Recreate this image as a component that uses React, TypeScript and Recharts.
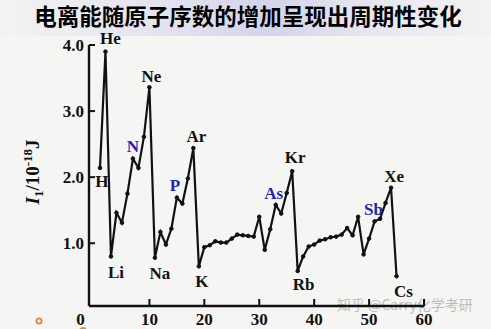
import { LineChart, Line, XAxis, YAxis, LabelList } from "recharts";

const symbols = [
  "H", "He",
  "Li", "Be", "B", "C", "N", "O", "F", "Ne",
  "Na", "Mg", "Al", "Si", "P", "S", "Cl", "Ar",
  "K", "Ca", "Sc", "Ti", "V", "Cr", "Mn", "Fe", "Co", "Ni", "Cu", "Zn", "Ga", "Ge", "As", "Se", "Br", "Kr",
  "Rb", "Sr", "Y", "Zr", "Nb", "Mo", "Tc", "Ru", "Rh", "Pd", "Ag", "Cd", "In", "Sn", "Sb", "Te", "I", "Xe",
  "Cs",
];

// first ionization energy, 10^-18 J
const energies = [
  2.14, 3.9,
  0.8, 1.46, 1.31, 1.75, 2.28, 2.14, 2.61, 3.36,
  0.78, 1.17, 0.98, 1.22, 1.69, 1.6, 1.98, 2.44,
  0.65, 0.94, 0.97, 1.03, 1.01, 1.01, 1.07, 1.13, 1.12, 1.11, 1.1, 1.4, 0.9, 1.21, 1.58, 1.45, 1.76, 2.09,
  0.58, 0.8, 0.95, 0.98, 1.04, 1.06, 1.09, 1.1, 1.13, 1.23, 1.12, 1.4, 0.83, 1.07, 1.33, 1.37, 1.61, 1.84,
  0.5,
];

const xTicks = [0, 10, 20, 30, 40, 50, 60];
const yTicks = [1, 2, 3, 4];

const data = symbols.map((sym, i) => ({ z: i + 1, sym, e: energies[i] }));

const BLUE = "#2323b4";
const INK = "#111";

// where each shown element name sits relative to its point
const labelPos: Record<string, { dx: number; dy: number; color: string }> = {
  H: { dx: 2, dy: 13, color: INK },
  He: { dx: 5, dy: -14, color: INK },
  Li: { dx: 5, dy: 16, color: INK },
  N: { dx: 0, dy: -13, color: BLUE },
  Ne: { dx: 2, dy: -11, color: INK },
  Na: { dx: 5, dy: 15, color: INK },
  P: { dx: -2, dy: -13, color: BLUE },
  Ar: { dx: 3, dy: -12, color: INK },
  K: { dx: 3, dy: 15, color: INK },
  As: { dx: -2, dy: -12, color: BLUE },
  Kr: { dx: 3, dy: -14, color: INK },
  Rb: { dx: 6, dy: 13, color: INK },
  Sb: { dx: -1, dy: -12, color: BLUE },
  Xe: { dx: 3, dy: -12, color: INK },
  Cs: { dx: 7, dy: 15, color: INK },
};

const serif = "'Liberation Serif', 'DejaVu Serif', serif";

const XTick = (props: any) => {
  const { x, y, payload } = props;
  const v = payload.value;
  return (
    <g>
      {v !== 0 && <line x1={x} y1={y} x2={x} y2={y - 7} stroke={INK} strokeWidth={2} />}
      <text x={v === 0 ? x - 14 : x} y={y + 19} textAnchor="middle" fontFamily={serif} fontWeight="bold" fontSize={17} fill={INK}>
        {v}
      </text>
    </g>
  );
};

const YTick = (props: any) => {
  const { x, y, payload } = props;
  return (
    <g>
      <line x1={x} y1={y} x2={x + 6} y2={y} stroke={INK} strokeWidth={2} />
      <text x={x - 5} y={y + 6} textAnchor="end" fontFamily={serif} fontWeight="bold" fontSize={17} fill={INK}>
        {payload.value.toFixed(1)}
      </text>
    </g>
  );
};

const ElementLabel = (props: any) => {
  const { x, y, value } = props;
  const p = labelPos[value];
  if (!p) return null;
  return (
    <text x={x + p.dx} y={y + p.dy + 6} textAnchor="middle" fontFamily={serif} fontWeight="bold" fontSize={17} fill={p.color}>
      {value}
    </text>
  );
};

export default function App() {
  return (
    <div
      style={{
        position: "absolute",
        left: 0,
        top: 0,
        width: 491,
        height: 329,
        overflow: "hidden",
        background: "#f5f5f3",
      }}
    >
      <div
        style={{
          position: "absolute",
          left: 0,
          top: 0,
          width: 491,
          height: 36,
          background: "linear-gradient(to right, #f3f3f3 0%, #e2e2ef 35%, #d4d4ea 55%, #e6e6f0 75%, #f3f3f3 100%)",
        }}
      />
      <svg width={491} height={329} style={{ position: "absolute", left: 0, top: 0 }}>
        <text x={248} y={25} textAnchor="middle" fontFamily="'Noto Sans CJK SC', sans-serif" fontWeight="bold" fontSize={22.5} fill="#000">
          电离能随原子序数的增加呈现出周期性变化
        </text>
        <text
          transform="translate(39,172) rotate(-90)"
          textAnchor="middle"
          fontFamily={serif}
          fontWeight="bold"
          fontSize={19}
          fill={INK}
        >
          <tspan fontStyle="italic">I</tspan>
          <tspan fontSize={13} dy={4}>1</tspan>
          <tspan dy={-4}>/10</tspan>
          <tspan fontSize={13} dy={-7}>-18</tspan>
          <tspan dy={7}>J</tspan>
        </text>
        <text x={337} y={310} fontFamily="'Noto Sans CJK SC', sans-serif" fontSize={14} fill="#bdbdbd">
          知乎 @Carry化学考研
        </text>
        <circle cx={39} cy={321} r={2.6} fill="none" stroke="#e08a3c" strokeWidth={1.8} />
        <circle cx={83} cy={331} r={3} fill="none" stroke="#e08a3c" strokeWidth={1.8} />
      </svg>
      <div style={{ position: "absolute", left: 0, top: 0 }}>
        <LineChart width={491} height={329} data={data} margin={{ top: 45, right: 67, bottom: 0, left: 49 }}>
          <XAxis
            dataKey="z"
            type="number"
            domain={[-1, 60]}
            ticks={xTicks}
            height={23}
            tickSize={0}
            tickMargin={0}
            tickLine={false}
            tick={<XTick />}
            axisLine={{ stroke: INK, strokeWidth: 2.4 }}
            interval={0}
          />
          <YAxis
            type="number"
            domain={[0.05, 4]}
            ticks={yTicks}
            width={40}
            tickSize={0}
            tickMargin={0}
            tickLine={false}
            tick={<YTick />}
            axisLine={{ stroke: INK, strokeWidth: 2.4 }}
            interval={0}
          />
          <Line
            dataKey="e"
            type="linear"
            stroke={INK}
            strokeWidth={2.2}
            dot={{ r: 1.8, fill: INK, stroke: INK, strokeWidth: 1 }}
            isAnimationActive={false}
          >
            <LabelList dataKey="sym" content={<ElementLabel />} />
          </Line>
        </LineChart>
      </div>
    </div>
  );
}
